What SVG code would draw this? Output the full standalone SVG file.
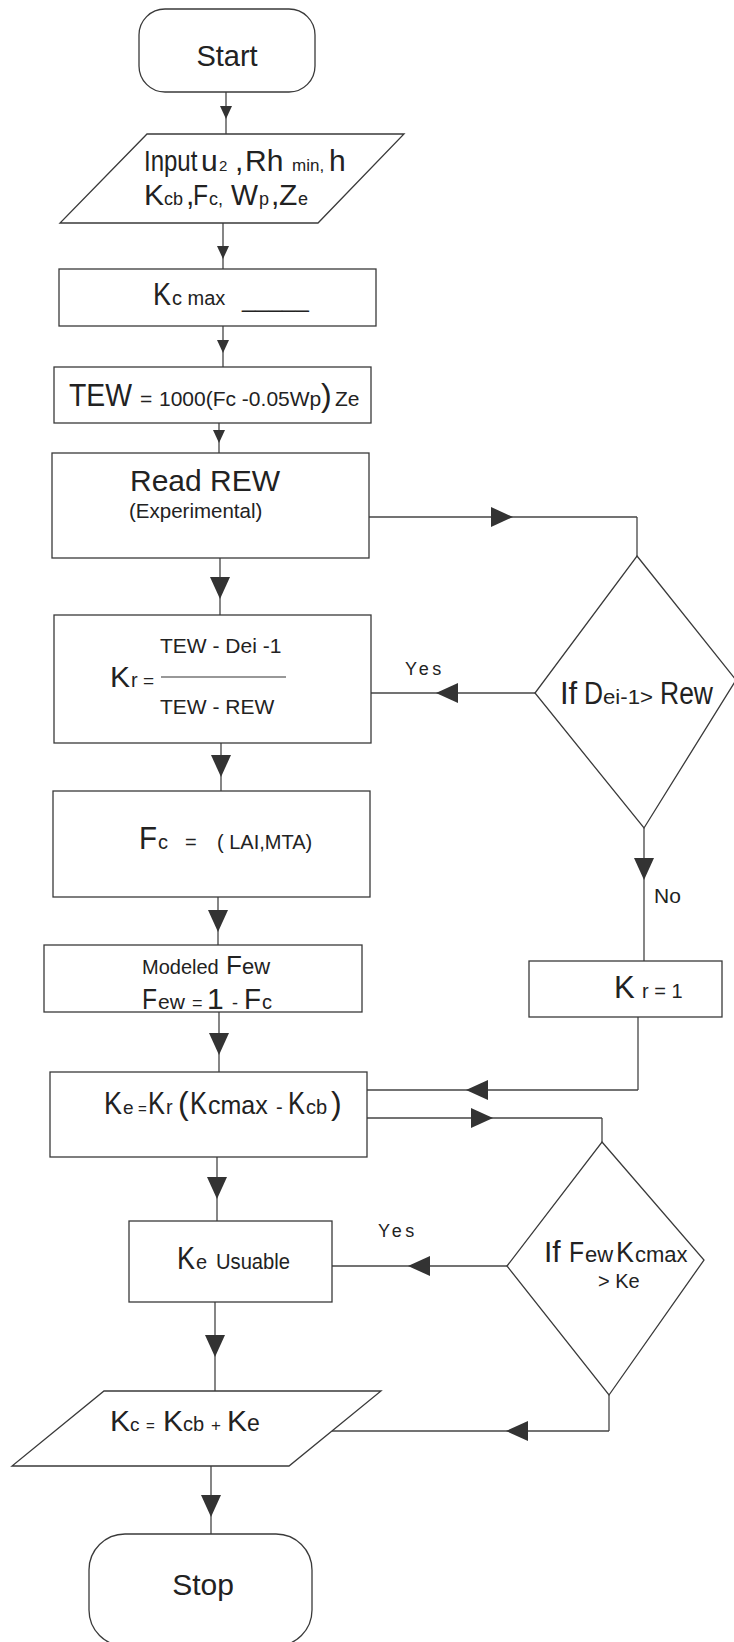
<svg xmlns="http://www.w3.org/2000/svg" width="734" height="1642" viewBox="0 0 734 1642">
<style>
.s{fill:#fff;stroke:#3a3a3a;stroke-width:1.3}
.c{fill:none;stroke:#444;stroke-width:1.3}
text{font-family:"Liberation Sans",Arial,Helvetica,sans-serif;fill:#222}
.lab{font-size:18px;letter-spacing:3.5px}
</style>
<defs>
<marker id="aS" markerUnits="userSpaceOnUse" markerWidth="13" markerHeight="12" refX="13" refY="6" orient="auto" viewBox="0 0 13 12"><path d="M0,0 L13,6 L0,12 z" fill="#333"/></marker>
<marker id="aL" markerUnits="userSpaceOnUse" markerWidth="22" markerHeight="20" refX="22" refY="10" orient="auto" viewBox="0 0 22 20"><path d="M0,0 L22,10 L0,20 z" fill="#333"/></marker>
</defs>

<g id="connectors">
<path class="c" d="M226,92 V119 V134" marker-mid="url(#aS)"/>
<path class="c" d="M223,223 V259 V269" marker-mid="url(#aS)"/>
<path class="c" d="M223,326 V353 V367" marker-mid="url(#aS)"/>
<path class="c" d="M219,423 V443 V453" marker-mid="url(#aS)"/>
<path class="c" d="M220,558 V599 V615" marker-mid="url(#aL)"/>
<path class="c" d="M221,743 V777 V791" marker-mid="url(#aL)"/>
<path class="c" d="M218,897 V932 V945" marker-mid="url(#aL)"/>
<path class="c" d="M219,1012 V1055 V1072" marker-mid="url(#aL)"/>
<path class="c" d="M217,1157 V1199 V1221" marker-mid="url(#aL)"/>
<path class="c" d="M215,1302 V1357 V1391" marker-mid="url(#aL)"/>
<path class="c" d="M211,1466 V1517 V1534" marker-mid="url(#aL)"/>
<path class="c" d="M367,479 V517"/>
<path class="c" d="M367,517 H513 H637" marker-mid="url(#aL)"/>
<path class="c" d="M637,517 V556"/>
<path class="c" d="M535,693 H436 H371" marker-mid="url(#aL)"/>
<path class="c" d="M644,828 V880 V961" marker-mid="url(#aL)"/>
<path class="c" d="M638,1017 V1090"/>
<path class="c" d="M638,1090 H466 H367" marker-mid="url(#aL)"/>
<path class="c" d="M367,1118 H493 H602" marker-mid="url(#aL)"/>
<path class="c" d="M602,1118 V1142"/>
<path class="c" d="M507,1266 H408 H332" marker-mid="url(#aL)"/>
<path class="c" d="M609,1395 V1431"/>
<path class="c" d="M609,1431 H506 H332" marker-mid="url(#aL)"/>
<text class="lab" x="405" y="675">Yes</text>
<text x="654" y="903" font-size="21">No</text>
<text class="lab" x="378" y="1237">Yes</text>
</g>

<g id="start">
<rect class="s" x="139" y="9" width="176" height="83" rx="26"/>
<text x="227" y="66" font-size="29" text-anchor="middle">Start</text>
</g>

<g id="input">
<polygon class="s" points="147,134 404,134 318,223 60,223"/>
<text transform="translate(144,171) scale(0.8,1)" font-size="30">Input</text>
<text y="171"><tspan x="201" font-size="30">u</tspan><tspan x="219" font-size="15">2</tspan><tspan x="235" font-size="30">,</tspan><tspan x="245" font-size="30">Rh</tspan><tspan x="292" font-size="17">min,</tspan><tspan x="329" font-size="30">h</tspan></text>
<text y="205"><tspan x="144" font-size="30">K</tspan><tspan x="164" font-size="18">cb</tspan><tspan x="186" font-size="30">,</tspan><tspan x="193" font-size="30" textLength="15" lengthAdjust="spacingAndGlyphs">F</tspan><tspan x="209" font-size="18">c,</tspan><tspan x="231" font-size="30" textLength="27" lengthAdjust="spacingAndGlyphs">W</tspan><tspan x="259" font-size="18">p</tspan><tspan x="271" font-size="30">,</tspan><tspan x="279" font-size="30">Z</tspan><tspan x="298" font-size="18">e</tspan></text>
</g>

<g id="kcmax">
<rect class="s" x="59" y="269" width="317" height="57"/>
<text y="305"><tspan x="153" font-size="31" textLength="18" lengthAdjust="spacingAndGlyphs">K</tspan><tspan x="172" font-size="20">c max</tspan><tspan x="242" y="307" font-size="24">_____</tspan></text>
</g>

<g id="tew">
<rect class="s" x="54" y="367" width="317" height="56"/>
<text y="406"><tspan x="69" font-size="31" textLength="63" lengthAdjust="spacingAndGlyphs">TEW</tspan><tspan x="140" font-size="21">=</tspan><tspan x="159" font-size="21">1000(Fc -0.05Wp</tspan><tspan x="321" font-size="32">)</tspan><tspan x="335" font-size="21">Ze</tspan></text>
</g>

<g id="readrew">
<rect class="s" x="52" y="453" width="317" height="105"/>
<text x="130" y="491" font-size="30">Read REW</text>
<text x="129" y="518" font-size="20.5">(Experimental)</text>
</g>

<g id="kr">
<rect class="s" x="54" y="615" width="317" height="128"/>
<text y="687"><tspan x="110" font-size="30">K</tspan><tspan x="131" font-size="20">r</tspan><tspan x="143" font-size="19">=</tspan></text>
<text x="160" y="653" font-size="21">TEW - Dei -1</text>
<line x1="161" y1="677" x2="286" y2="677" stroke="#333" stroke-width="1.2"/>
<text x="160" y="714" font-size="21">TEW - REW</text>
</g>

<g id="decision1">
<polygon class="s" points="637,556 736,680 644,828 535,693"/>
<text y="704"><tspan x="560" font-size="31">If</tspan><tspan x="584" font-size="31" textLength="19" lengthAdjust="spacingAndGlyphs">D</tspan><tspan x="603" font-size="20" textLength="50" lengthAdjust="spacingAndGlyphs">ei-1&gt;</tspan><tspan x="660" font-size="31" textLength="53" lengthAdjust="spacingAndGlyphs">Rew</tspan></text>
</g>

<g id="fc">
<rect class="s" x="53" y="791" width="317" height="106"/>
<text y="849"><tspan x="139" font-size="32" textLength="18" lengthAdjust="spacingAndGlyphs">F</tspan><tspan x="158" font-size="20">c</tspan><tspan x="185" font-size="20">=</tspan><tspan x="217" font-size="20">( LAI,MTA)</tspan></text>
</g>

<g id="few">
<rect class="s" x="44" y="945" width="318" height="67"/>
<text y="974"><tspan x="142" font-size="20">Modeled</tspan><tspan x="226" font-size="26">F</tspan><tspan x="242" font-size="22">ew</tspan></text>
<text y="1009"><tspan x="142" font-size="30" textLength="15" lengthAdjust="spacingAndGlyphs">F</tspan><tspan x="158" font-size="21">ew</tspan><tspan x="192" font-size="18">=</tspan><tspan x="207" font-size="30">1</tspan><tspan x="232" font-size="18">-</tspan><tspan x="244" font-size="30" textLength="17" lengthAdjust="spacingAndGlyphs">F</tspan><tspan x="262" font-size="20">c</tspan></text>
</g>

<g id="kr1">
<rect class="s" x="529" y="961" width="193" height="56"/>
<text y="998"><tspan x="614" font-size="31">K</tspan><tspan x="642" font-size="20">r = 1</tspan></text>
</g>

<g id="ke">
<rect class="s" x="50" y="1072" width="317" height="85"/>
<text y="1114"><tspan x="104" font-size="31" textLength="18" lengthAdjust="spacingAndGlyphs">K</tspan><tspan x="123" font-size="19">e</tspan><tspan x="138" font-size="15">=</tspan><tspan x="148" font-size="31" textLength="17" lengthAdjust="spacingAndGlyphs">K</tspan><tspan x="166" font-size="20">r</tspan><tspan x="178" font-size="32">(</tspan><tspan x="190" font-size="31" textLength="17" lengthAdjust="spacingAndGlyphs">K</tspan><tspan x="208" font-size="25">cmax</tspan><tspan x="276" font-size="20">-</tspan><tspan x="288" font-size="31" textLength="17" lengthAdjust="spacingAndGlyphs">K</tspan><tspan x="306" font-size="20">cb</tspan><tspan x="331" font-size="32">)</tspan></text>
</g>

<g id="decision2">
<polygon class="s" points="602,1142 704,1260 609,1395 507,1266"/>
<text y="1262"><tspan x="544" font-size="30">If</tspan><tspan x="569" font-size="30" textLength="15" lengthAdjust="spacingAndGlyphs">F</tspan><tspan x="585" font-size="22">ew</tspan><tspan x="616" font-size="30" textLength="18" lengthAdjust="spacingAndGlyphs">K</tspan><tspan x="635" font-size="22">cmax</tspan></text>
<text x="598" y="1288" font-size="20">&gt; Ke</text>
</g>

<g id="keusable">
<rect class="s" x="129" y="1221" width="203" height="81"/>
<text y="1269"><tspan x="177" font-size="31" textLength="18" lengthAdjust="spacingAndGlyphs">K</tspan><tspan x="196" font-size="20">e</tspan><tspan x="216" font-size="22" textLength="74" lengthAdjust="spacingAndGlyphs">Usuable</tspan></text>
</g>

<g id="kc">
<polygon class="s" points="104,1391 381,1391 289,1466 12,1466"/>
<text y="1431"><tspan x="110" font-size="30">K</tspan><tspan x="130" font-size="19">c</tspan><tspan x="146" font-size="15">=</tspan><tspan x="163" font-size="30">K</tspan><tspan x="183" font-size="20">cb</tspan><tspan x="211" font-size="17">+</tspan><tspan x="227" font-size="30">K</tspan><tspan x="247" font-size="23">e</tspan></text>
</g>

<g id="stop">
<rect class="s" x="89" y="1534" width="223" height="112" rx="36"/>
<text x="203" y="1595" font-size="30" text-anchor="middle">Stop</text>
</g>
</svg>
